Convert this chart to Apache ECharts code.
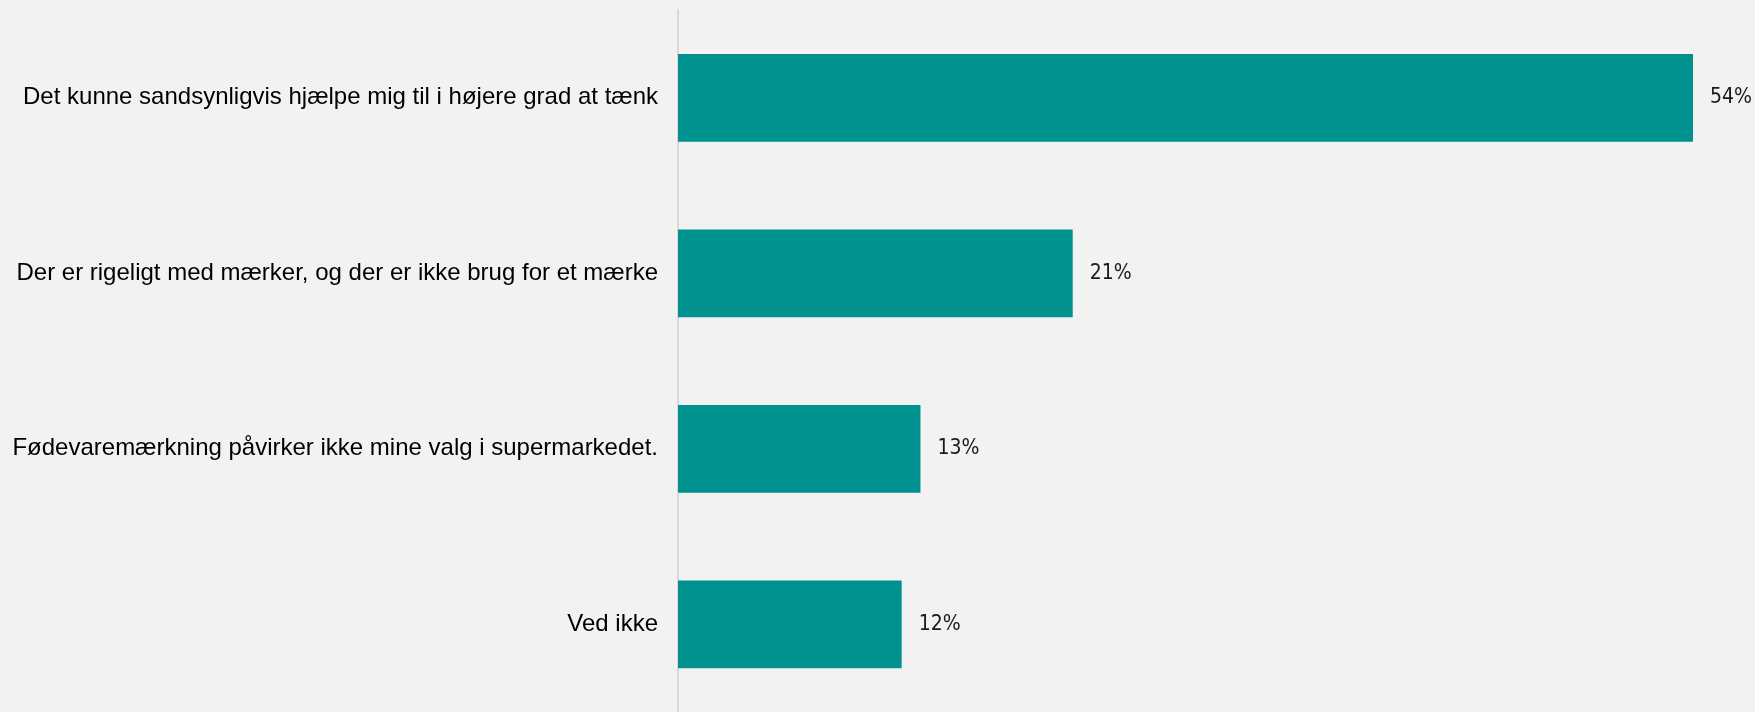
<!DOCTYPE html>
<html>
<head>
<meta charset="utf-8">
<script src="https://cdn.jsdelivr.net/npm/echarts@6/dist/echarts.min.js"></script>
<style>
html,body{margin:0;padding:0;background:#f2f2f2;}
#c{width:1755px;height:712px;}
</style>
</head>
<body>
<div id="c"></div>
<script>
const categories = [
  "Det kunne sandsynligvis hjælpe mig til i højere grad at tænk",
  "Der er rigeligt med mærker, og der er ikke brug for et mærke",
  "Fødevaremærkning påvirker ikke mine valg i supermarkedet.",
  "Ved ikke"
];
const values = [54, 21, 12.9, 11.9];

const chart = echarts.init(document.getElementById('c'), null, {renderer: 'canvas'});
chart.setOption({
  backgroundColor: '#f2f2f2',
  animation: false,
  grid: {left: 678, right: 62, top: 10, bottom: 0, containLabel: false},
  xAxis: {
    type: 'value', min: 0, max: 54,
    show: false
  },
  yAxis: {
    type: 'category', data: categories, inverse: true,
    axisLine: {show: true, lineStyle: {color: '#d9d9d9', width: 2}},
    axisTick: {show: false},
    axisLabel: {
      color: '#000000', fontFamily: 'Liberation Sans, Arial, sans-serif',
      fontSize: 24, margin: 20
    }
  },
  series: [{
    type: 'bar', data: values, barCategoryGap: '50%',
    itemStyle: {color: '#00928f'},
    label: {
      show: true, position: 'right', distance: 17,
      formatter: p => Math.round(p.value) + '%',
      color: '#1a1a1a', fontSize: 21,
      fontFamily: 'DejaVu Sans Condensed, sans-serif'
    }
  }]
});
</script>
</body>
</html>
